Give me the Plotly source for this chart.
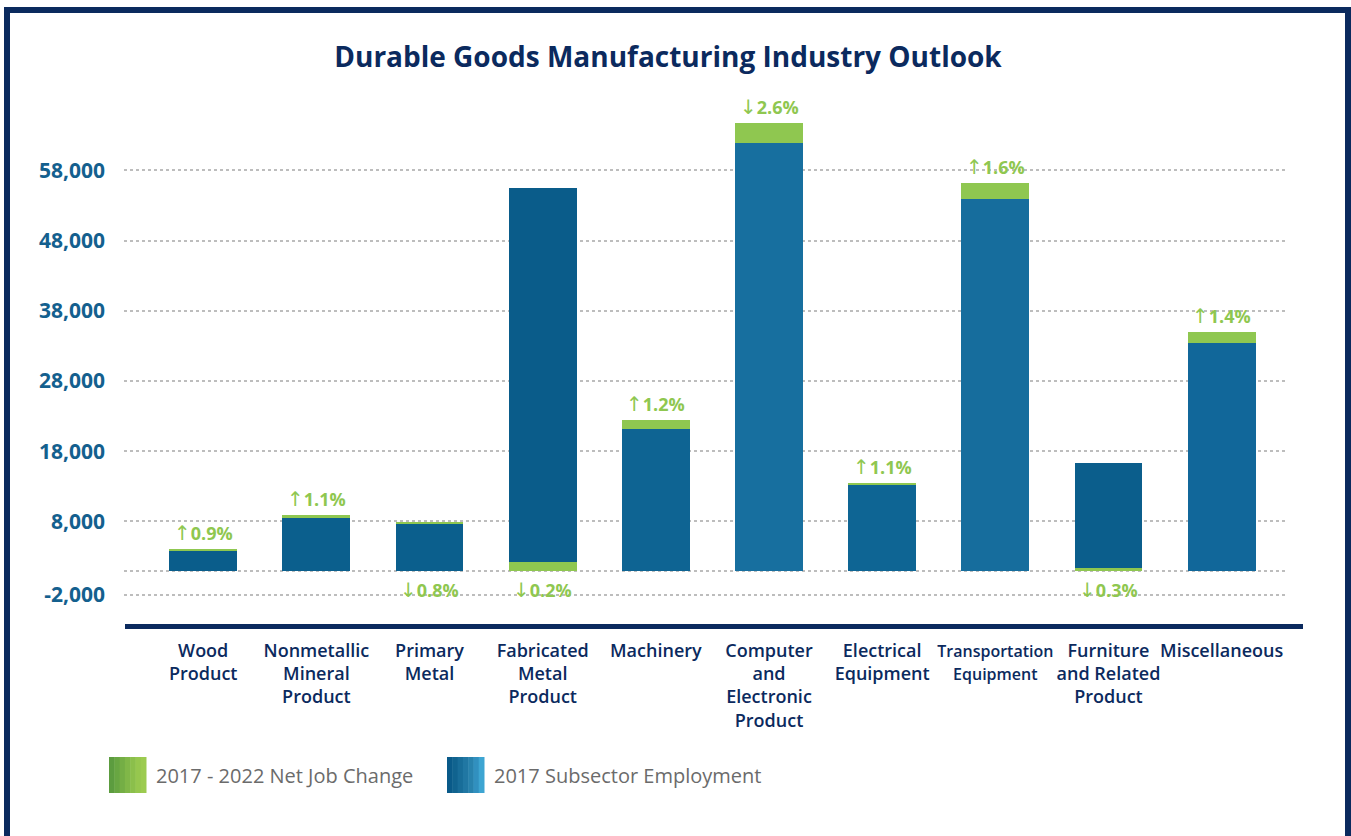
import plotly.graph_objects as go

# ---------------- data ----------------
categories = ["Wood Product", "Nonmetallic Mineral Product", "Primary Metal",
              "Fabricated Metal Product", "Machinery", "Computer and Electronic Product",
              "Electrical Equipment", "Transportation Equipment",
              "Furniture and Related Product", "Miscellaneous"]
category_tick_text = ["Wood<br>Product", "Nonmetallic<br>Mineral<br>Product", "Primary<br>Metal",
                      "Fabricated<br>Metal<br>Product", "Machinery",
                      "Computer<br>and<br>Electronic<br>Product", "Electrical<br>Equipment",
                      "<span style='font-size:16px'>Transportation<br>Equipment</span>",
                      "Furniture<br>and Related<br>Product", "Miscellaneous"]
employment_2017 = [2800, 7550, 6600, 53300, 20100, 60900, 12200, 52900, 15000, 32400]
net_job_change = [260, 330, 300, 1200, 1300, 2800, 300, 2300, 300, 1600]
change_direction = ["↑", "↑", "↓", "↓", "↑", "↓", "↑", "↑", "↓", "↑"]
change_pct = ["0.9%", "1.1%", "0.8%", "0.2%", "1.2%", "2.6%", "1.1%", "1.6%", "0.3%", "1.4%"]
# where the reference draws the change segment / its label
change_at_bottom = [False, False, False, True, False, False, False, False, True, False]
label_below = [False, False, True, True, False, False, False, False, True, False]
y_tick_labels = ["-2,000", "8,000", "18,000", "28,000", "38,000", "48,000", "58,000"]
y_tick_values = [-3500, 7000, 17000, 27000, 37000, 47000, 57000]

# ---------------- styles ----------------
NAVY = "#0b2a5e"
GREEN = "#8fc750"
LABEL_BLUE = "#14608e"
emp_colors = ["#0a5d8b", "#0b5f8d", "#0b5f8d", "#0a5c8a", "#0e6493",
              "#176f9f", "#0e6594", "#166d9d", "#0b5e8c", "#11679a"]
FONT = "Open Sans, Montserrat, sans-serif"
ARROW_FONT = "DejaVu Sans"

W, H = 1351, 836
ML, MR, MT, MB = 124, 66, 90, 210
PW, PH = W - ML - MR, H - MT - MB


def px(x):
    return (x - ML) / PW


def py(y):
    return (H - MB - y) / PH


xs = list(range(len(categories)))
emp_base = [g if b else 0 for g, b in zip(net_job_change, change_at_bottom)]
chg_base = [0 if b else e for e, b in zip(employment_2017, change_at_bottom)]
totals = [e + g for e, g in zip(employment_2017, net_job_change)]

fig = go.Figure()
fig.add_trace(go.Bar(x=xs, y=employment_2017, base=emp_base, width=0.6,
                     name="2017 Subsector Employment", marker=dict(color=emp_colors, line_width=0),
                     showlegend=False, hoverinfo="skip"))
fig.add_trace(go.Bar(x=xs, y=net_job_change, base=chg_base, width=0.6,
                     name="2017 - 2022 Net Job Change", marker=dict(color=GREEN, line_width=0),
                     showlegend=False, hoverinfo="skip"))

annotations = []
for i in xs:
    below = label_below[i]
    txt = (f"<span style=\"font-family:'{ARROW_FONT}';font-weight:400;font-size:20px\">"
           f"{change_direction[i]}</span>{change_pct[i]}")
    annotations.append(dict(
        x=xs[i], y=0 if below else totals[i], xref="x", yref="y", text=txt, showarrow=False,
        yanchor="top" if below else "bottom", yshift=-5 if below else 2,
        font=dict(family=FONT, size=18, color=GREEN, weight=700)))

# custom legend text
annotations.append(dict(x=px(154), y=py(775), xref="paper", yref="paper", xanchor="left",
                        yanchor="middle", text="2017 - 2022 Net Job Change", showarrow=False,
                        font=dict(family=FONT, size=20, color="#6b6b6b")))
annotations.append(dict(x=px(492), y=py(775), xref="paper", yref="paper", xanchor="left",
                        yanchor="middle", text="2017 Subsector Employment", showarrow=False,
                        font=dict(family=FONT, size=20, color="#6b6b6b")))

shapes = []
# outer frame
shapes.append(dict(type="rect", xref="paper", yref="paper", x0=px(7), x1=px(1348),
                   y0=py(860), y1=py(10), line=dict(color=NAVY, width=6), layer="above"))
# heavy baseline under the plot
shapes.append(dict(type="line", xref="paper", yref="paper", x0=px(125), x1=px(1303),
                   y0=py(626.5), y1=py(626.5), line=dict(color=NAVY, width=5)))


def grad_square(x0, colors):
    n = len(colors)
    w = 37 / n
    for k, c in enumerate(colors):
        shapes.append(dict(type="rect", xref="paper", yref="paper",
                           x0=px(x0 + k * w), x1=px(x0 + (k + 1) * w + 0.5),
                           y0=py(793), y1=py(757), line_width=0, fillcolor=c))


grad_square(109, ["#5c9c3f", "#68a642", "#74ae45", "#80b748", "#8bbf4b", "#96c74e", "#9ccb50"])
grad_square(447, ["#095a89", "#10638f", "#186d99", "#2077a3", "#2882ad", "#3190bf", "#3da5d2"])

fig.update_layout(
    width=W, height=H,
    margin=dict(l=ML, r=MR, t=MT, b=MB, pad=0),
    paper_bgcolor="white", plot_bgcolor="white",
    barmode="overlay", bargap=0,
    title=dict(text="Durable Goods Manufacturing Industry Outlook", x=668 / W, xanchor="center",
               xref="container", y=1 - 57 / H, yanchor="middle",
               font=dict(family=FONT, size=28, color=NAVY, weight=700)),
    xaxis=dict(range=[-0.70, 9.56], tickmode="array", tickvals=xs, ticktext=category_tick_text,
               tickangle=0, showgrid=False, zeroline=False, showline=False,
               ticks="outside", ticklen=8, tickcolor="rgba(0,0,0,0)",
               tickfont=dict(family=FONT, size=18, color=NAVY, weight=600)),
    yaxis=dict(range=[-7906, 68447], tickmode="array",
               tickvals=[0] + y_tick_values, ticktext=[""] + y_tick_labels,
               showgrid=True, gridcolor="#bdbdbd", griddash="dot", gridwidth=1.5,
               zeroline=False, showline=False, ticks="", ticklabelstandoff=18,
               tickfont=dict(family=FONT, size=21, color=LABEL_BLUE, weight=700)),
    annotations=annotations,
    shapes=shapes,
)

fig.write_html("out.html", config={"displayModeBar": False},
               post_script="document.body.style.margin='0';document.body.style.overflow='hidden';")
